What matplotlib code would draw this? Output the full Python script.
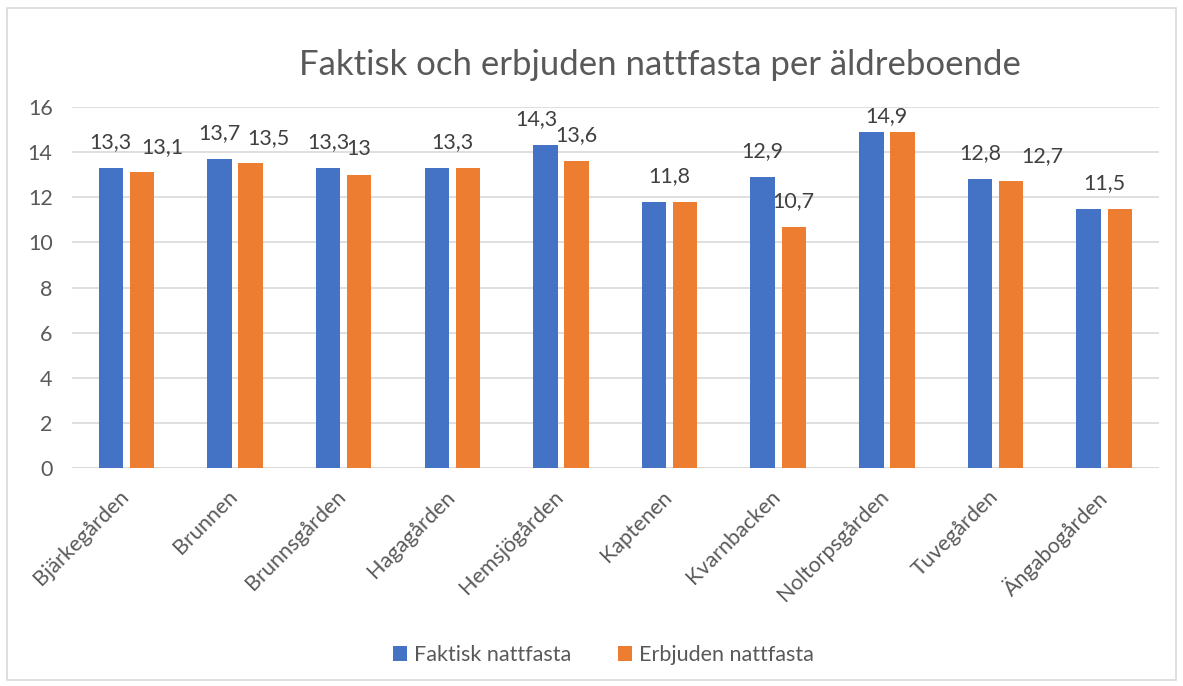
import matplotlib.pyplot as plt
import matplotlib.patches as patches
import matplotlib.transforms as mtransforms
import numpy as np

# data
boenden = ['Bjärkegården', 'Brunnen', 'Brunnsgården', 'Hagagården', 'Hemsjögården',
           'Kaptenen', 'Kvarnbacken', 'Noltorpsgården', 'Tuvegården', 'Ängabogården']
faktisk = [13.3, 13.7, 13.3, 13.3, 14.3, 11.8, 12.9, 14.9, 12.8, 11.5]
erbjuden = [13.1, 13.5, 13.0, 13.3, 13.6, 11.8, 10.7, 14.9, 12.7, 11.5]

# small horizontal nudges for the data labels (as in the original, to avoid overlap)
nudge_faktisk = [0, 0, 0, 0, -0.08, 0, 0, 0, 0, 0]
nudge_erbjuden = [0.19, 0.165, 0, 0, 0, 0, 0, 0, 0.29, 0]

blue = '#4472C4'
orange = '#ED7D31'
grey_txt = '#595959'
plt.rcParams['font.family'] = ['Lato', 'DejaVu Sans']

fig = plt.figure(figsize=(11.83, 6.86), dpi=100)
ax = fig.add_axes([0.0609, 0.3178, 0.9184, 0.5262])

x = np.arange(len(boenden))
w = 0.225
off = 0.143
ax.bar(x - off, faktisk, w, color=blue, label='Faktisk nattfasta', zorder=3)
ax.bar(x + off, erbjuden, w, color=orange, label='Erbjuden nattfasta', zorder=3)

def fmt(v):
    return ('%g' % v).replace('.', ',')

def label_y(v):
    return min(v + 0.7, 15.15)

lab_size = 15.5
for i in range(len(boenden)):
    f, e = faktisk[i], erbjuden[i]
    if f == e:
        ax.text(x[i], label_y(f), fmt(f), ha='center', va='bottom',
                fontsize=lab_size, color='#404040', zorder=4)
    else:
        ax.text(x[i] - off + nudge_faktisk[i], label_y(f), fmt(f), ha='center',
                va='bottom', fontsize=lab_size, color='#404040', zorder=4)
        ax.text(x[i] + off + nudge_erbjuden[i], label_y(e), fmt(e), ha='center',
                va='bottom', fontsize=lab_size, color='#404040', zorder=4)

ax.set_xlim(-0.5, len(boenden) - 0.5)
ax.set_ylim(0, 16)
ax.set_yticks(np.arange(0, 17, 2))
ax.yaxis.grid(True, color='#D9D9D9', linewidth=1.2, zorder=0)
for s in ax.spines.values():
    s.set_visible(False)
ax.axhline(0, color='#D9D9D9', linewidth=1.2, zorder=1)
ax.tick_params(axis='both', length=0, labelsize=15.5, colors=grey_txt)
ax.tick_params(axis='y', pad=14)
ax.set_xticks(x)
ax.set_xticklabels(boenden, rotation=45, ha='right', rotation_mode='anchor')
ax.tick_params(axis='x', pad=12)
shift = mtransforms.ScaledTranslation(-8 / 100, -2 / 100, fig.dpi_scale_trans)
for lbl in ax.get_xticklabels():
    lbl.set_transform(lbl.get_transform() + shift)

fig.text(0.558, 0.905, 'Faktisk och erbjuden nattfasta per äldreboende',
         ha='center', va='center', fontsize=25, color=grey_txt)

fig.legend(loc='center', bbox_to_anchor=(0.51, 0.045), ncol=2, frameon=False,
           fontsize=15.5, labelcolor=grey_txt, handlelength=0.65, handleheight=0.65,
           handletextpad=0.3, columnspacing=2.2)

# light border around the chart area
fig.patches.append(patches.Rectangle((0.006, 0.009), 0.988, 0.98, transform=fig.transFigure,
                                     fill=False, edgecolor='#D9D9D9', linewidth=1.2))

fig.savefig('out.png', dpi=100)
